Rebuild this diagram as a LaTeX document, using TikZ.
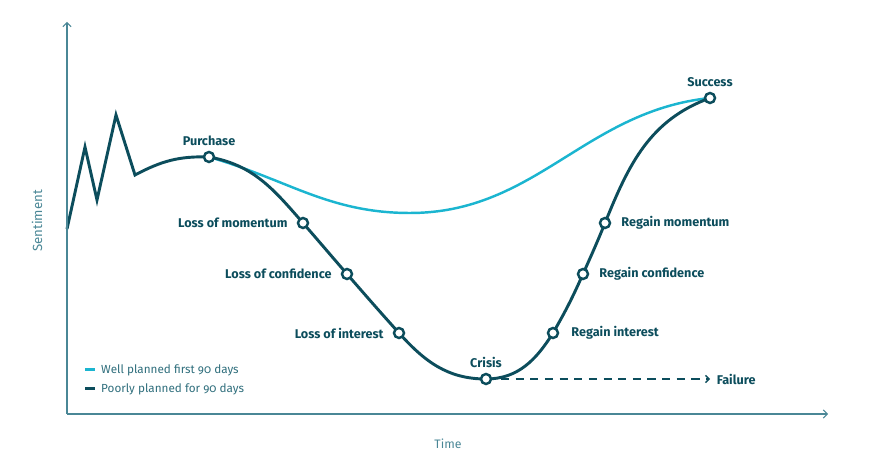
\documentclass[tikz,border=0pt]{standalone}
\usepackage{fontspec}
\setmainfont{Fira Sans}[Numbers=OldStyle]
\usepackage{xcolor}
\definecolor{curveDark}{HTML}{0C4D5C}
\definecolor{curveLight}{HTML}{1BB5D0}
\definecolor{axisTeal}{HTML}{4A8796}
\definecolor{legendText}{HTML}{2F6E7C}
\usepackage{tikz}
\usetikzlibrary{
  arrows.meta,
  positioning,
  backgrounds
}
\tikzset{
  axisline/.style={draw=axisTeal,line width=0.9pt,
    -{Straight Barb[length=3.5pt,width=7pt,line width=0.9pt]}},
  darkcurve/.style={draw=curveDark,line width=2.5pt,line join=miter},
  lightcurve/.style={draw=curveLight,line width=2.1pt},
  milestone/.style={circle,draw=curveDark,fill=white,line width=2.1pt,
    inner sep=0pt,minimum size=0.3cm},
  stagelabel/.style={font=\bfseries\fontsize{10.8}{13}\selectfont,
    text=curveDark,inner sep=0pt},
  axislabel/.style={font=\fontsize{10.5}{12}\selectfont,text=axisTeal,inner sep=0pt},
  legtext/.style={font=\fontsize{10}{12}\selectfont,text=legendText,
    inner sep=0pt,anchor=west},
  legkey/.style={rectangle,inner sep=0pt,minimum width=0.3cm,minimum height=0.09cm},
  failarr/.style={draw=curveDark,line width=1.3pt,dash pattern=on 7pt off 5.5pt,
    -{Straight Barb[length=3pt,width=6pt,line width=1.2pt]}}
}

\begin{document}
\begin{tikzpicture}[x=0.03cm,y=0.03cm]
\useasboundingbox (0,0) rectangle (882,474);

\coordinate (origin) at (67,60);
\coordinate (ytop)   at (67,452);
\coordinate (xend)   at (828,60);
\draw[axisline] (origin) -- (ytop);
\draw[axisline] (origin) -- (xend);
\node[axislabel,rotate=90,font=\fontsize{11.3}{13}\selectfont] (sentiment) at (37,253) {Sentiment};
\node[axislabel] (time) at (448,30) {Time};

\node[milestone] (purchase) at (209,317) {};
\node[milestone] (lom)      at (303,251) {};
\node[milestone] (loc)      at (347,200) {};
\node[milestone] (loi)      at (399,141) {};
\node[milestone] (crisis)   at (486,95)  {};
\node[milestone] (ri)       at (553,141) {};
\node[milestone] (rc)       at (583,200) {};
\node[milestone] (rm)       at (605,251) {};
\node[milestone] (success)  at (710,376) {};

\coordinate (start) at (67,245);
\coordinate (zigA)  at (85,327);
\coordinate (zigB)  at (97,274);
\coordinate (zigC)  at (116,359);
\coordinate (zigD)  at (135,299);
\coordinate (lightlow) at (410,261);
\coordinate (failend)  at (710,95);

\begin{scope}[on background layer]
\draw[lightcurve] (purchase.center) to[out=-16,in=180] (lightlow)
  to[out=0,in=186] (success.center);
\draw[darkcurve] (start) -- (zigA) -- (zigB) -- (zigC) -- (zigD)
  to[out=28,in=178] (purchase.center)
  to[out=-10,in=131] (lom.center)
  to[out=-49,in=131] (loc.center)
  to[out=-49,in=132] (loi.center)
  to[out=-48,in=180] (crisis.center)
  to[out=0,in=-122] (ri.center)
  to[out=60,in=-114] (rc.center)
  to[out=66,in=-112] (rm.center)
  to[out=68,in=200] (success.center);
\end{scope}

\draw[failarr,shorten <=0.45cm] (crisis.center) -- (failend);

\node[stagelabel,above=0.15cm of purchase] (purchaselbl) {Purchase};
\node[stagelabel,left=0.27cm of lom] (lomlbl) {Loss of momentum};
\node[stagelabel,left=0.27cm of loc] (loclbl) {Loss of confidence};
\node[stagelabel,left=0.27cm of loi] (loilbl) {Loss of interest};
\node[stagelabel,above=0.15cm of crisis] (crisislbl) {Crisis};
\node[stagelabel,right=0.36cm of ri] (rilbl) {Regain interest};
\node[stagelabel,right=0.3cm of rc] (rclbl) {Regain confidence};
\node[stagelabel,right=0.3cm of rm] (rmlbl) {Regain momentum};
\node[stagelabel,above=0.15cm of success] (successlbl) {Success};
\node[stagelabel,right=0.2cm of failend] (failurelbl) {Failure};

\node[legtext] (legwell) at (101,104) {Well planned first 90 days};
\node[legtext] (legpoor) at (101,85)  {Poorly planned for 90 days};
\node[legkey,fill=curveLight,left=0.18cm of legwell] (keywell) {};
\node[legkey,fill=curveDark,left=0.18cm of legpoor] (keypoor) {};
\end{tikzpicture}
\end{document}
